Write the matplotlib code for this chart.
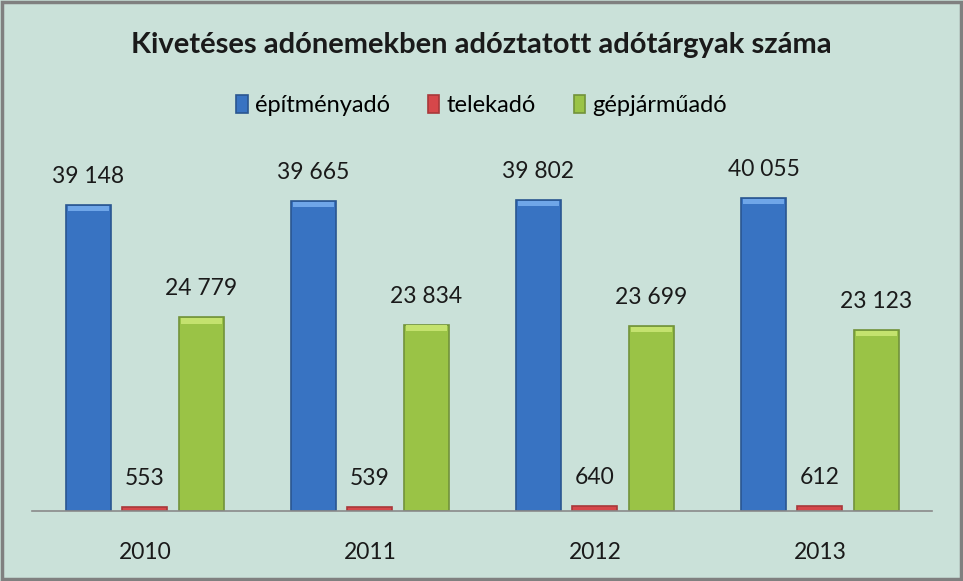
import numpy as np
import matplotlib
matplotlib.use('agg')
import matplotlib.pyplot as plt
from matplotlib.patches import Rectangle

plt.rcParams['font.family'] = ['Lato', 'DejaVu Sans']

years = ['2010', '2011', '2012', '2013']
series_names = ['építményadó', 'telekadó', 'gépjárműadó']
epitmenyado = [39148, 39665, 39802, 40055]
telekado = [553, 539, 640, 612]
gepjarmuado = [24779, 23834, 23699, 23123]

bg = '#CAE1D9'
colors = ['#3873C2', '#D6474A', '#9AC346']
edges = ['#2A5690', '#A8383A', '#72923A']
tops = ['#6FA6E8', '#F08080', '#C4E26E']


def fmt(v):
    return f"{v:,}".replace(',', ' ')


fig = plt.figure(figsize=(9.63, 5.81), dpi=100, facecolor=bg)
ax = fig.add_axes([0.0337, 0.1205, 0.9346, 0.6055])
ax.set_facecolor(bg)

x = np.arange(len(years))
offset = 0.251
width = 0.2
data = [epitmenyado, telekado, gepjarmuado]

handles = []
for i, vals in enumerate(data):
    pos = x + (i - 1) * offset
    bars = ax.bar(pos, vals, width, color=colors[i], edgecolor=edges[i],
                  linewidth=1.2, label=series_names[i], zorder=2)
    handles.append(bars)
    for b, v in zip(bars, vals):
        # light bevel strip at the top of each bar
        if v > 5000:
            ax.bar(b.get_x() + b.get_width() / 2, 700, width * 0.9, bottom=v - 800,
                   color=tops[i], linewidth=0, zorder=3)
        ax.annotate(fmt(v), (b.get_x() + b.get_width() / 2, v),
                    xytext=(0, 13), textcoords='offset points',
                    ha='center', va='bottom', fontsize=16.5, color='#1a1a1a')

ax.set_xlim(-0.5, len(years) - 0.5)
ax.set_ylim(0, 45000)
ax.set_yticks([])
ax.set_xticks(x)
ax.set_xticklabels(years, fontsize=16.5, color='#1a1a1a')
ax.tick_params(axis='x', length=0, pad=22)
for s in ['top', 'right', 'left']:
    ax.spines[s].set_visible(False)
ax.spines['bottom'].set_color('#8a8a8a')
ax.spines['bottom'].set_linewidth(1.2)

fig.text(0.5, 0.922, 'Kivetéses adónemekben adóztatott adótárgyak száma',
         ha='center', va='center', fontsize=21, fontweight='bold', color='#1a1a1a')

fig.legend(handles=handles, labels=series_names, loc='center',
           bbox_to_anchor=(0.5, 0.818), ncol=3, frameon=False, fontsize=17,
           handlelength=0.5, handleheight=0.8, handletextpad=0.3,
           columnspacing=1.6)

fig.patches.append(Rectangle((0.002, 0.003), 0.996, 0.994, transform=fig.transFigure,
                             fill=False, edgecolor='#808080', linewidth=2.5))

fig.savefig('out.png', dpi=100, facecolor=bg)
